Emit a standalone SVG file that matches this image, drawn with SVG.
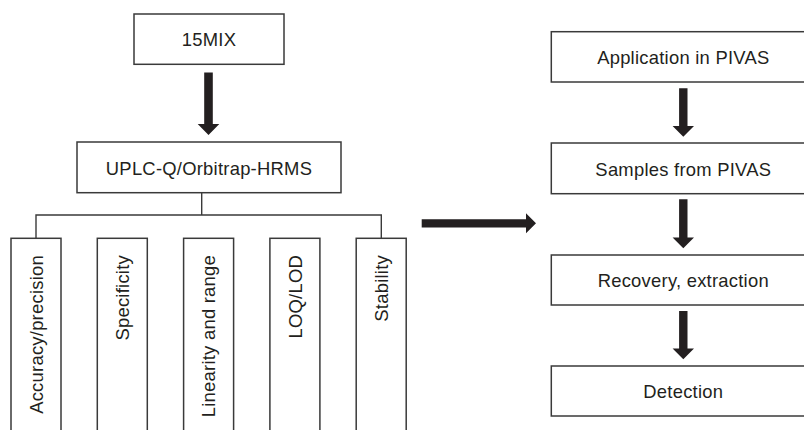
<svg xmlns="http://www.w3.org/2000/svg" width="804" height="430" viewBox="0 0 804 430">
  <style>
    .box { fill: #ffffff; stroke: #3a3a3a; stroke-width: 1.5; }
    .lbl { font-family: "Liberation Sans", Arial, Helvetica, sans-serif; font-size: 18.4px; letter-spacing: 0.25px; fill: #231f20; }
    .mid { text-anchor: middle; }
    .vert { text-anchor: end; }
    .wire { fill: none; stroke: #3a3a3a; stroke-width: 1.4; }
    .arrow { fill: #231f20; }
  </style>
  <rect width="804" height="430" fill="#ffffff"/>

  <!-- connectors -->
  <g id="connectors">
    <!-- bracket from the instrument box down to the five validation items -->
    <path class="wire" d="M201.7 192.7 V215 M36 238.3 V215 H381.3 V238.3"/>
    <!-- block arrows -->
    <polygon class="arrow" points="204.2,72.5 212.8,72.5 212.8,124 219.3,124 208.5,135 197.7,124 204.2,124"/>
    <polygon class="arrow" points="679.1,88.3 687.5,88.3 687.5,126 694,126 683.3,136.7 672.6,126 679.1,126"/>
    <polygon class="arrow" points="679.1,199.3 687.5,199.3 687.5,237.5 694,237.5 683.3,248.3 672.6,237.5 679.1,237.5"/>
    <polygon class="arrow" points="679.1,311 687.5,311 687.5,348.5 694,348.5 683.3,359.3 672.6,348.5 679.1,348.5"/>
    <polygon class="arrow" points="421.7,219.2 526,219.2 526,213.3 536,223.3 526,233.3 526,227.4 421.7,227.4"/>
  </g>

  <!-- method development column -->
  <g id="mix">
    <rect class="box" x="134" y="14" width="150" height="50.3"/>
    <text class="lbl mid" x="209" y="45.8">15MIX</text>
  </g>
  <g id="uplc">
    <rect class="box" x="77" y="142" width="264" height="50.7"/>
    <text class="lbl mid" x="209" y="174.8">UPLC-Q/Orbitrap-HRMS</text>
  </g>

  <!-- validation items (open at the bottom edge) -->
  <g id="accuracy">
    <rect class="box" x="11" y="238.3" width="50" height="220"/>
    <text class="lbl vert" transform="translate(42.6 255) rotate(-90)">Accuracy/precision</text>
  </g>
  <g id="specificity">
    <rect class="box" x="97.3" y="238.3" width="50" height="220"/>
    <text class="lbl vert" transform="translate(128.9 255) rotate(-90)">Specificity</text>
  </g>
  <g id="linearity">
    <rect class="box" x="183.6" y="238.3" width="50" height="220"/>
    <text class="lbl vert" transform="translate(215.2 255) rotate(-90)">Linearity and range</text>
  </g>
  <g id="loq">
    <rect class="box" x="269.9" y="238.3" width="50" height="220"/>
    <text class="lbl vert" transform="translate(301.5 255) rotate(-90)">LOQ/LOD</text>
  </g>
  <g id="stability">
    <rect class="box" x="356.2" y="238.3" width="50" height="220"/>
    <text class="lbl vert" transform="translate(387.8 255) rotate(-90)">Stability</text>
  </g>

  <!-- application column (boxes run past the right edge) -->
  <g id="application">
    <rect class="box" x="551.3" y="31.7" width="264" height="50.3"/>
    <text class="lbl mid" x="683.3" y="64.2">Application in PIVAS</text>
  </g>
  <g id="samples">
    <rect class="box" x="551.3" y="143" width="264" height="50.7"/>
    <text class="lbl mid" x="683.3" y="175.6">Samples from PIVAS</text>
  </g>
  <g id="recovery">
    <rect class="box" x="551.3" y="255" width="264" height="50"/>
    <text class="lbl mid" x="683.3" y="286.8">Recovery, extraction</text>
  </g>
  <g id="detection">
    <rect class="box" x="551.3" y="366" width="264" height="50"/>
    <text class="lbl mid" x="683.3" y="397.7">Detection</text>
  </g>
</svg>
